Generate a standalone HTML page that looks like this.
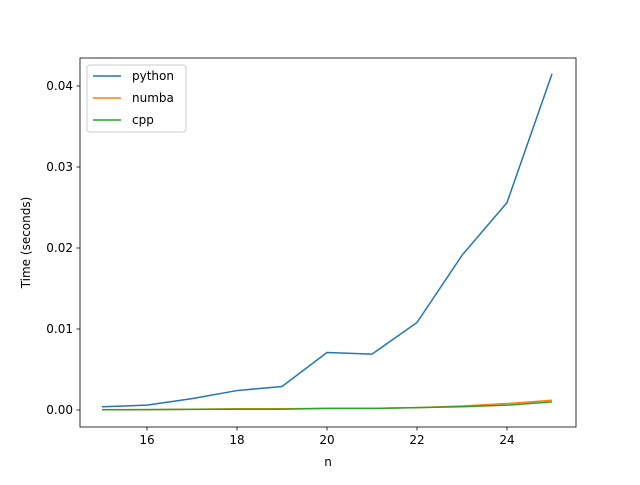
<!DOCTYPE html>
<html><head><meta charset="utf-8"><style>
body{margin:0;background:#fff;}
text{font-family:"DejaVu Sans","Liberation Sans",sans-serif;font-size:12px;fill:#000;}
</style></head><body>
<svg id="chart" width="640" height="480" xmlns="http://www.w3.org/2000/svg">
<rect width="640" height="480" fill="#fff"/>
<g id="plot"></g>
</svg>
<script>
const nValues = [15,16,17,18,19,20,21,22,23,24,25];
const pythonTimes = [0.0004,0.0006,0.0014,0.0024,0.0029,0.0071,0.0069,0.0108,0.0191,0.0256,0.0415];
const numbaTimes = [0.00005,0.00005,0.0001,0.00015,0.00015,0.0002,0.0002,0.0003,0.0005,0.0008,0.0012];
const cppTimes = [0.00003,0.00004,0.00008,0.0001,0.0001,0.0002,0.0002,0.0003,0.0004,0.0006,0.001];
const xTicks = [16,18,20,22,24];
const yTicks = [0,0.01,0.02,0.03,0.04];
const yTickLabels = ["0.00","0.01","0.02","0.03","0.04"];
const seriesNames = ["python","numba","cpp"];
const seriesColors = ["#1f77b4","#ff7f0e","#2ca02c"];

const L=80,R=576,T=58,B=427;
function xs(v){return 102+(v-15)*45;}
function ys(v){return 410-v*8100;}
const NS="http://www.w3.org/2000/svg";
const g=document.getElementById('plot');
function mk(tag,attrs,parent){const e=document.createElementNS(NS,tag);for(const k in attrs)e.setAttribute(k,attrs[k]);(parent||g).appendChild(e);return e;}

xTicks.forEach(t=>{
  const l=mk('line',{x1:xs(t),x2:xs(t),y1:B,y2:B+3.5,stroke:'#000','stroke-width':0.8});
  
  
  const tx=mk('text',{x:xs(t),y:B+17,'text-anchor':'middle'});tx.textContent=t;
  
  
});
yTicks.forEach((t,i)=>{
  const l=mk('line',{x1:L-3.5,x2:L,y1:ys(t),y2:ys(t),stroke:'#000','stroke-width':0.8});
  
  
  const tx=mk('text',{x:L-7,y:ys(t)+4,'text-anchor':'end'});tx.textContent=yTickLabels[i];
  
  
});
[pythonTimes,numbaTimes,cppTimes].forEach((s,i)=>{
  const p=mk('polyline',{points:s.map((v,j)=>xs(nValues[j])+','+ys(v)).join(' '),fill:'none',stroke:seriesColors[i],'stroke-width':1.5});
  
  
});
const fr=mk('rect',{x:L,y:T,width:R-L,height:B-T,fill:'none',stroke:'#000','stroke-width':0.8});


const xl=mk('text',{x:(L+R)/2,y:466,'text-anchor':'middle'});xl.textContent='n';


const yl=mk('text',{x:0,y:0,'text-anchor':'middle',transform:'translate(30,'+((T+B)/2)+') rotate(-90)'});yl.textContent='Time (seconds)';


const lg=mk('g',{});


mk('rect',{x:87,y:65,width:99,height:67,rx:3,fill:'#fff','fill-opacity':0.8,stroke:'#ccc','stroke-width':1},lg);
seriesNames.forEach((n,i)=>{
  const y=76+i*22;
  const e=mk('g',{},lg);
  
  
  mk('line',{x1:93,x2:121,y1:y,y2:y,stroke:seriesColors[i],'stroke-width':1.5},e);
  const t=mk('text',{x:132,y:y+4},e);t.textContent=n;
});
</script>
</body></html>
